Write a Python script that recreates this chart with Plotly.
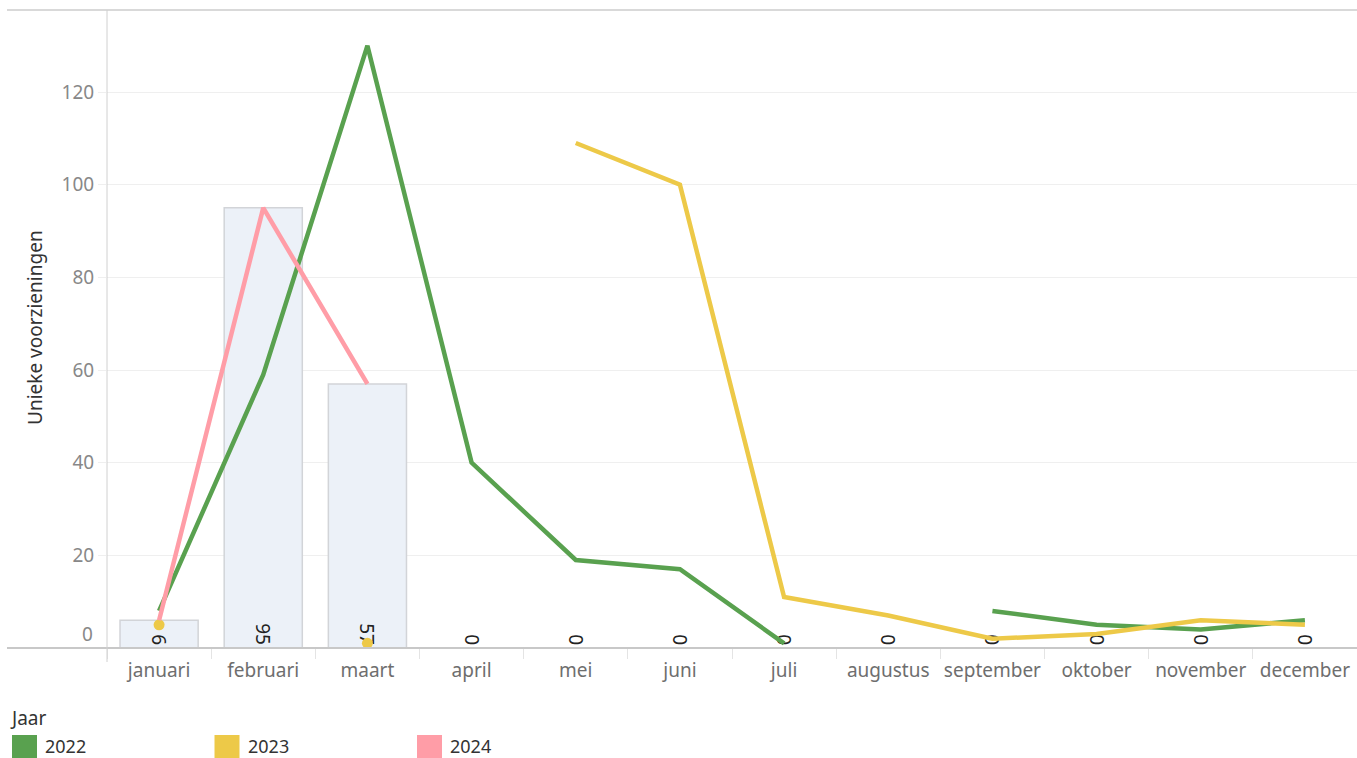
import plotly.graph_objects as go

months = ["januari", "februari", "maart", "april", "mei", "juni", "juli",
          "augustus", "september", "oktober", "november", "december"]
years = ["2022", "2023", "2024"]
colors = {"2022": "#59A14F", "2023": "#EDC948", "2024": "#FF9DA7"}

vals_2022 = [8, 59, 130, 40, 19, 17, 1, None, 8, 5, 4, 6]
vals_2023 = [5, None, 1, None, 109, 100, 11, 7, 2, 3, 6, 5]
vals_2024 = [6, 95, 57, None, None, None, None, None, None, None, None, None]
bars_2024 = [6, 95, 57, 0, 0, 0, 0, 0, 0, 0, 0, 0]

series = {"2022": vals_2022, "2023": vals_2023, "2024": vals_2024}

W, H = 1357, 758
L, R, T, B = 107, 0, 10, 110
PW, PH = W - L - R, H - T - B


def px_x(p):
    return (p - L) / PW


def px_y(p):
    return (H - B - p) / PH


FONT = "Noto Sans"
FS = 19
fig = go.Figure()

fig.add_trace(go.Bar(
    x=months, y=bars_2024,
    marker=dict(color="#ECF1F8", line=dict(color="#D2D4D8", width=1.5)),
    text=[str(v) for v in bars_2024],
    textposition=["inside" if v > 0 else "outside" for v in bars_2024],
    insidetextanchor="start",
    textangle=90,
    constraintext="none",
    textfont=dict(family=FONT, size=FS, color="#222"),
    cliponaxis=False,
    showlegend=False,
    hoverinfo="skip",
))

for yr in years:
    v = series[yr]
    fig.add_trace(go.Scatter(
        x=months, y=v, mode="lines",
        line=dict(color=colors[yr], width=4.5),
        connectgaps=False, showlegend=False, name=yr,
    ))
    # isolated points shown as dots
    iso_x, iso_y = [], []
    for i, val in enumerate(v):
        if val is None:
            continue
        prev_none = i == 0 or v[i - 1] is None
        next_none = i == len(v) - 1 or v[i + 1] is None
        if prev_none and next_none:
            iso_x.append(months[i])
            iso_y.append(val)
    if iso_x:
        fig.add_trace(go.Scatter(
            x=iso_x, y=iso_y, mode="markers",
            marker=dict(color=colors[yr], size=11),
            showlegend=False, name=yr,
        ))

shapes = [
    dict(type="line", xref="paper", yref="paper", x0=px_x(7), x1=1, y0=px_y(10), y1=px_y(10),
         line=dict(color="#CCCCCC", width=1.5)),
    dict(type="line", xref="paper", yref="paper", x0=px_x(7), x1=1, y0=px_y(648), y1=px_y(648),
         line=dict(color="#C8C8C8", width=2)),
    dict(type="line", xref="paper", yref="paper", x0=0, x1=0, y0=px_y(10), y1=px_y(662),
         line=dict(color="#D0D0D0", width=1)),
]
annotations = [
    dict(text="Unieke voorzieningen", xref="paper", yref="paper", x=px_x(35), y=px_y(328),
         textangle=-90, showarrow=False, font=dict(family=FONT, size=FS, color="#333"),
         xanchor="center", yanchor="middle"),
    dict(text="0", xref="paper", yref="y", x=px_x(95), y=0, yshift=14, showarrow=False,
         xanchor="right", yanchor="middle", font=dict(family=FONT, size=FS, color="#888")),
    dict(text="Jaar", xref="paper", yref="paper", x=px_x(8), y=px_y(718), showarrow=False,
         xanchor="left", yanchor="middle", font=dict(family=FONT, size=FS, color="#333")),
]
for i, yr in enumerate(years):
    x0 = 12 + i * 202.5
    shapes.append(dict(type="rect", xref="paper", yref="paper",
                       x0=px_x(x0), x1=px_x(x0 + 25), y0=px_y(735), y1=px_y(758),
                       fillcolor=colors[yr], line=dict(width=0)))
    annotations.append(dict(text=yr, xref="paper", yref="paper", x=px_x(x0 + 31), y=px_y(746),
                            showarrow=False, xanchor="left", yanchor="middle",
                            font=dict(family=FONT, size=18, color="#333")))

fig.update_layout(
    width=W, height=H,
    margin=dict(l=L, r=R, t=T, b=B, autoexpand=False),
    paper_bgcolor="white", plot_bgcolor="white",
    bargap=0.25,
    font=dict(family=FONT),
    shapes=shapes, annotations=annotations,
    xaxis=dict(
        categoryorder="array", categoryarray=months,
        showgrid=False, showline=False, zeroline=False,
        ticks="outside", tickson="boundaries", ticklen=10, tickcolor="#E4E4E4",
        tickangle=0, ticklabelstandoff=9,
        tickfont=dict(family=FONT, size=FS, color="#6E6E6E"),
        range=[-0.5, 11.5],
    ),
    yaxis=dict(
        range=[0, 137.7],
        tickvals=[20, 40, 60, 80, 100, 120],
        showgrid=True, gridcolor="#EFEFEF", gridwidth=1,
        zeroline=False, showline=False,
        ticks="outside", ticklen=8, tickcolor="#EFEFEF",
        tickfont=dict(family=FONT, size=FS, color="#888"),
    ),
)

fig.write_html(
    "out.html",
    config={"displayModeBar": False},
    post_script="document.body.style.margin='0';document.body.style.overflow='hidden';",
)
